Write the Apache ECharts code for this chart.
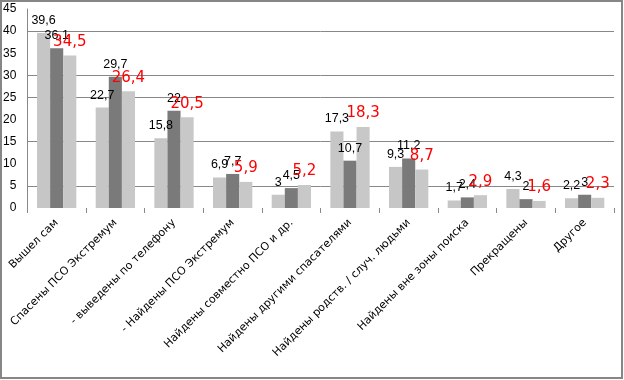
<!DOCTYPE html>
<html><head><meta charset="utf-8">
<script src="https://cdn.jsdelivr.net/npm/echarts@6/dist/echarts.min.js"></script>
<style>html,body{margin:0;padding:0;background:#fff}#c{width:624px;height:380px}</style>
</head><body><div id="c"></div>
<script>
const categories = [
  'Вышел сам',
  'Спасены ПСО Экстремум',
  '- выведены по телефону',
  '- Найдены ПСО Экстремум',
  'Найдены совместно ПСО и др.',
  'Найдены другими спасателями',
  'Найдены родств. / случ. людьми',
  'Найдены вне зоны поиска',
  'Прекращены',
  'Другое'
];
const seriesA = [39.6, 22.7, 15.8, 6.9, 3, 17.3, 9.3, 1.7, 4.3, 2.2];
const seriesB = [36.1, 29.7, 22, 7.7, 4.5, 10.7, 11.2, 2.4, 2, 3];
const seriesC = [34.5, 26.4, 20.5, 5.9, 5.2, 18.3, 8.7, 2.9, 1.6, 2.3];
const yTickValues = [0, 5, 10, 15, 20, 25, 30, 35, 40, 45];

const fmt = p => String(p.value).replace('.', ',');
const grid = '#888888';
const T = 'rgba(0,0,0,0)';

const chart = echarts.init(document.getElementById('c'), null, {renderer: 'canvas'});
chart.setOption({
  backgroundColor: '#ffffff',
  animation: false,
  grid: {left: 27, right: 10, top: 9, bottom: 172, containLabel: false},
  xAxis: {
    type: 'category',
    data: categories,
    axisLine: {show: false},
    axisTick: {show: true, length: 5, lineStyle: {color: grid}},
    axisLabel: {
      rotate: 45, margin: 13, interval: 0,
      fontFamily: 'DejaVu Sans', fontSize: 11, color: '#000'
    }
  },
  yAxis: {
    type: 'value',
    min: yTickValues[0],
    max: yTickValues[yTickValues.length - 1],
    interval: yTickValues[1] - yTickValues[0],
    axisLine: {show: true, lineStyle: {color: grid}},
    axisTick: {show: false},
    axisLabel: {margin: 11, fontFamily: 'Liberation Sans', fontSize: 12, color: '#000'},
    splitLine: {show: true, lineStyle: {color: [T, grid, T, grid, T, grid, grid, T, grid, T], width: 1}}
  },
  series: [
    {type: 'bar', name: 'Ряд 1', data: seriesA, barGap: '0%', barCategoryGap: '33%',
     itemStyle: {color: '#c6c6c6'},
     label: {show: true, position: 'top', distance: 6, formatter: fmt,
             fontFamily: 'Liberation Sans', fontSize: 12.5, color: '#000'}},
    {type: 'bar', name: 'Ряд 2', data: seriesB, barGap: '0%', barCategoryGap: '33%',
     itemStyle: {color: '#7a7a7a'},
     label: {show: true, position: 'top', distance: 6, formatter: fmt,
             fontFamily: 'Liberation Sans', fontSize: 12.5, color: '#000'}},
    {type: 'bar', name: 'Ряд 3', data: seriesC, barGap: '0%', barCategoryGap: '33%',
     itemStyle: {color: '#c8c8c8'},
     label: {show: true, position: 'top', distance: 6, formatter: fmt,
             fontFamily: 'DejaVu Sans', fontSize: 15, color: '#ff0000'}}
  ],
  graphic: [{
    type: 'rect', silent: true, z: 100,
    shape: {x: 1, y: 1, width: 621, height: 377},
    style: {fill: null, stroke: '#868686', lineWidth: 2}
  }]
});
</script></body></html>
